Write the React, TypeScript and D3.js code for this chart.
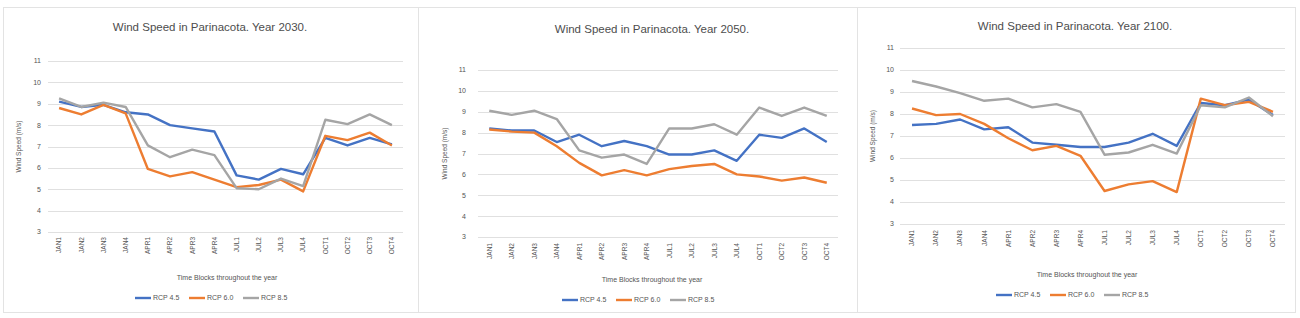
import React from "react";
import * as d3 from "d3";

const categories = ["JAN1","JAN2","JAN3","JAN4","APR1","APR2","APR3","APR4","JUL1","JUL2","JUL3","JUL4","OCT1","OCT2","OCT3","OCT4"];
const seriesNames = ["RCP 4.5", "RCP 6.0", "RCP 8.5"];
const yTicks = [3, 4, 5, 6, 7, 8, 9, 10, 11];
const years = ["2030", "2050", "2100"];

const rcp45_2030 = [9.1,8.85,8.95,8.6,8.5,8.0,7.85,7.7,5.65,5.45,5.95,5.7,7.4,7.05,7.4,7.1];
const rcp60_2030 = [8.8,8.5,8.95,8.55,5.95,5.6,5.8,5.45,5.1,5.2,5.45,4.9,7.5,7.3,7.65,7.05];
const rcp85_2030 = [9.25,8.85,9.05,8.85,7.05,6.5,6.85,6.6,5.05,5.0,5.5,5.15,8.25,8.05,8.5,8.0];

const rcp45_2050 = [8.2,8.1,8.1,7.55,7.9,7.35,7.6,7.35,6.95,6.95,7.15,6.65,7.9,7.75,8.2,7.55];
const rcp60_2050 = [8.15,8.05,8.0,7.35,6.55,5.95,6.2,5.95,6.25,6.4,6.5,6.0,5.9,5.7,5.85,5.6];
const rcp85_2050 = [9.05,8.85,9.05,8.65,7.15,6.8,6.95,6.5,8.2,8.2,8.4,7.9,9.2,8.8,9.2,8.8];

const rcp45_2100 = [7.5,7.55,7.75,7.3,7.4,6.7,6.6,6.5,6.5,6.7,7.1,6.55,8.5,8.4,8.65,7.95];
const rcp60_2100 = [8.25,7.95,8.0,7.55,6.9,6.35,6.55,6.1,4.5,4.8,4.95,4.45,8.7,8.4,8.55,8.1];
const rcp85_2100 = [9.5,9.25,8.95,8.6,8.7,8.3,8.45,8.1,6.15,6.25,6.6,6.2,8.4,8.3,8.75,7.9];

const colors = ["#4472C4", "#ED7D31", "#A5A5A5"];
const FONT = "'Liberation Sans', Arial, sans-serif";

const panelData = [
  [rcp45_2030, rcp60_2030, rcp85_2030],
  [rcp45_2050, rcp60_2050, rcp85_2050],
  [rcp45_2100, rcp60_2100, rcp85_2100],
];

const layouts = [
  { box: [3, 7, 418, 312], titleY: 31, titleX: 210, px: [48, 403], py: [232, 61], tickX: 41, yTitleX: 21, catY: 237, xTitleY: 280, xTitleX: 227, legY: 298, legX: 216 },
  { box: [418, 7, 857, 312], titleY: 33, titleX: 652, px: [478, 838], py: [237, 70], tickX: 466, yTitleX: 447, catY: 243, xTitleY: 282, xTitleX: 652, legY: 300, legX: 643 },
  { box: [857, 7, 1295, 312], titleY: 30, titleX: 1075, px: [900, 1285], py: [224, 48], tickX: 894, yTitleX: 875, catY: 230, xTitleY: 277, xTitleX: 1087, legY: 295, legX: 1077 },
];

function Panel({ idx }: { idx: number }) {
  const L = layouts[idx];
  const data = panelData[idx];
  const x = d3.scaleBand<string>().domain(categories).range([L.px[0], L.px[1]]);
  const y = d3.scaleLinear().domain([3, 11]).range([L.py[0], L.py[1]]);
  const line = d3
    .line<number>()
    .x((_, i) => (x(categories[i]) as number) + x.bandwidth() / 2)
    .y((d) => y(d));
  const legItemW = 54;
  const legStart = L.legX - (legItemW * 3) / 2;
  return (
    <g>
      <rect x={L.box[0] + 0.5} y={L.box[1] + 0.5} width={L.box[2] - L.box[0]} height={L.box[3] - L.box[1]} fill="#fff" stroke="#e3e3e3" />
      <text x={L.titleX} y={L.titleY} textAnchor="middle" fontSize={11.5} fill="#4d4d4d" fontFamily={FONT}>
        {`Wind Speed in Parinacota. Year ${years[idx]}.`}
      </text>
      {yTicks.map((t) => (
        <g key={t}>
          <line x1={L.px[0]} x2={L.px[1]} y1={Math.round(y(t)) + 0.5} y2={Math.round(y(t)) + 0.5} stroke="#e0e0e0" strokeWidth={1} />
          <text x={L.tickX} y={y(t)} dy="0.35em" textAnchor="end" fontSize={7} fill="#555" fontFamily={FONT}>{t}</text>
        </g>
      ))}
      <text transform={`translate(${L.yTitleX},${(L.py[0] + L.py[1]) / 2}) rotate(-90)`} textAnchor="middle" fontSize={6.5} fill="#555" fontFamily={FONT}>
        Wind Speed (m/s)
      </text>
      {categories.map((c) => (
        <text key={c} transform={`translate(${(x(c) as number) + x.bandwidth() / 2},${L.catY}) rotate(-90)`} dy="0.35em" textAnchor="end" fontSize={6.5} fill="#555" fontFamily={FONT}>
          {c}
        </text>
      ))}
      <text x={L.xTitleX} y={L.xTitleY} textAnchor="middle" fontSize={7} fill="#555" fontFamily={FONT}>
        Time Blocks throughout the year
      </text>
      {data.map((s, i) => (
        <path key={i} d={line(s) || ""} fill="none" stroke={colors[i]} strokeWidth={2.4} strokeLinejoin="round" />
      ))}
      {seriesNames.map((n, i) => (
        <g key={n} transform={`translate(${legStart + i * legItemW},${L.legY})`}>
          <line x1={0} x2={16} y1={0} y2={0} stroke={colors[i]} strokeWidth={2.4} />
          <text x={18} y={0} dy="0.35em" fontSize={7} fill="#555" fontFamily={FONT}>{n}</text>
        </g>
      ))}
    </g>
  );
}

export default function App() {
  return (
    <svg width={1300} height={318} style={{ position: "absolute", left: 0, top: 0, background: "#fff" }}>
      <rect x={0} y={0} width={1300} height={318} fill="#fff" />
      {[0, 1, 2].map((i) => (
        <Panel key={i} idx={i} />
      ))}
    </svg>
  );
}
